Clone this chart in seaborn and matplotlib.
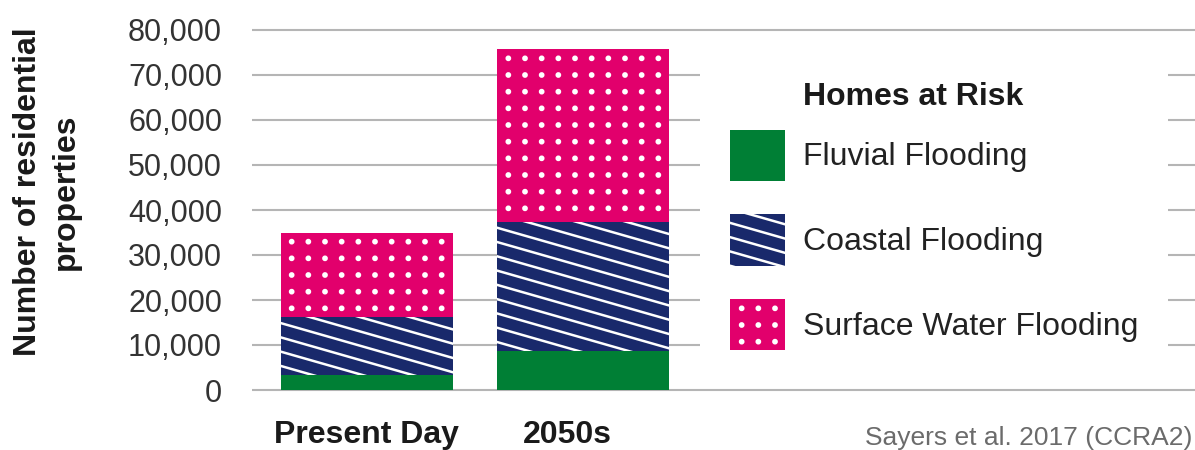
import warnings
import numpy as np
import pandas as pd
import matplotlib
matplotlib.use('Agg')
import matplotlib.pyplot as plt
import matplotlib.hatch as mhatch
import matplotlib.transforms as mtrans
from matplotlib.path import Path
from matplotlib.patches import Patch
from matplotlib import font_manager
from matplotlib.ticker import FuncFormatter
import seaborn as sns

warnings.filterwarnings('ignore')

periods = ['Present Day', '2050s']
fluvial = [3300, 8700]
coastal = [12900, 28600]
surface = [18700, 38500]
series_names = ['Fluvial Flooding', 'Coastal Flooding', 'Surface Water Flooding']
yticks = list(range(0, 80001, 10000))
source = 'Sayers et al. 2017 (CCRA2)'

GREEN = '#007f35'
NAVY = '#19296b'
PINK = '#e2006c'


class ShallowStripes(mhatch.HatchPatternBase):
    # flatter white diagonals than the built-in '\\'
    def __init__(self, hatch, density):
        self.n = 7 * hatch.count('z')
        self.m = 2
        self.num_vertices = 2 * (self.n + self.m + 1) if self.n else 0

    def set_vertices_and_codes(self, vertices, codes):
        c = np.arange(self.n + self.m + 1) / self.n
        vertices[0::2, 0] = 0.0
        vertices[0::2, 1] = c
        vertices[1::2, 0] = 1.0
        vertices[1::2, 1] = c - self.m / self.n
        codes[0::2] = Path.MOVETO
        codes[1::2] = Path.LINETO


class DotGrid(mhatch.HatchPatternBase):
    # square grid of small filled dots
    def __init__(self, hatch, density):
        self.n = 6 * hatch.count('y')
        circle = Path.unit_circle()
        self.shape_v = circle.vertices * 0.016
        self.shape_c = circle.codes
        self.num_vertices = self.n * self.n * len(self.shape_v)

    def set_vertices_and_codes(self, vertices, codes):
        k = len(self.shape_v)
        pos = (np.arange(self.n) + 0.5) / self.n
        i = 0
        for yy in pos:
            for xx in pos:
                vertices[i:i + k] = self.shape_v + [xx, yy]
                codes[i:i + k] = self.shape_c
                i += k


mhatch._hatch_types.extend([ShallowStripes, DotGrid])

sns.set_style('white')
plt.rcParams['font.family'] = ['Liberation Sans', 'DejaVu Sans']
plt.rcParams['hatch.linewidth'] = 1.8

names = {f.name for f in font_manager.fontManager.ttflist}
NARROW = 'Liberation Sans Narrow' if 'Liberation Sans Narrow' in names else 'Liberation Sans'

df = pd.DataFrame({'period': periods, 'fluvial': fluvial, 'coastal': coastal, 'surface': surface})
df['top_coastal'] = df['fluvial'] + df['coastal']
df['top_surface'] = df['top_coastal'] + df['surface']

W, H = 1195, 450
fig = plt.figure(figsize=(W / 100, H / 100), dpi=100)
ax = fig.add_axes([252 / W, (H - 391.8) / H, (W - 252) / W, (391.8 - 28.2) / H])

layers = [('top_surface', PINK, 'y'), ('top_coastal', NAVY, 'z'), ('fluvial', GREEN, None)]
for col, colour, hatch in layers:
    n0 = len(ax.patches)
    sns.barplot(data=df, x='period', y=col, color=colour, saturation=1, width=0.8,
                errorbar=None, ax=ax)
    for p in ax.patches[n0:]:
        p.set_edgecolor('white')
        p.set_linewidth(0)
        if hatch:
            p.set_hatch(hatch)

ax.set_xlim(-0.532, 3.833)
ax.set_ylim(-400, 80400)
ax.set_xlabel('')
ax.set_ylabel('')
for s in ax.spines.values():
    s.set_visible(False)

ax.set_yticks(yticks)
ax.yaxis.set_major_formatter(FuncFormatter(lambda v, _: f'{int(v):,}'))
ax.tick_params(axis='y', length=0, pad=21.6, labelsize=22, labelcolor='#333333')
ax.yaxis.grid(True, color='#b5b5b5', linewidth=1.5)
ax.xaxis.grid(False)
ax.set_axisbelow(True)

ax.set_xticks([0, 1])
ax.set_xticklabels(periods, fontsize=23, fontweight='bold', family=NARROW, color='#1a1a1a')
ax.tick_params(axis='x', length=0, pad=20)
lab = ax.get_xticklabels()[1]
lab.set_transform(lab.get_transform() + mtrans.ScaledTranslation(-0.16, 0, fig.dpi_scale_trans))

handles = [Patch(facecolor=GREEN, edgecolor='white', linewidth=0),
           Patch(facecolor=NAVY, edgecolor='white', linewidth=0, hatch='z'),
           Patch(facecolor=PINK, edgecolor='white', linewidth=0, hatch='y')]
leg = ax.legend(handles, series_names, title='Homes at Risk', loc='upper left',
                bbox_to_anchor=(700 / W, 1 - 64 / H), bbox_transform=fig.transFigure,
                borderaxespad=0, borderpad=0.94, fontsize=23,
                title_fontproperties={'weight': 'bold', 'size': 23},
                handlelength=1.72, handleheight=2.1, handletextpad=0.56, labelspacing=1.04,
                frameon=True, fancybox=False, framealpha=1, edgecolor='none',
                facecolor='white', alignment='left')
for t in leg.get_texts():
    t.set_color('#222222')
leg.get_title().set_color('#1a1a1a')
leg._legend_box.sep = 4
leg.get_title().set_x(73)
leg.get_title().set_y(12)

fig.text(47 / W, 1 - 192 / H, 'Number of residential\nproperties', rotation=90,
         fontsize=23, fontweight='bold', ha='center', va='center', linespacing=1.32,
         color='#1a1a1a')
fig.text(1192 / W, 1 - 426 / H, source, ha='right', va='top',
         fontsize=23 if NARROW != 'Liberation Sans' else 19, family=NARROW, color='#6b6b6b')

fig.savefig('out.png', dpi=100)
